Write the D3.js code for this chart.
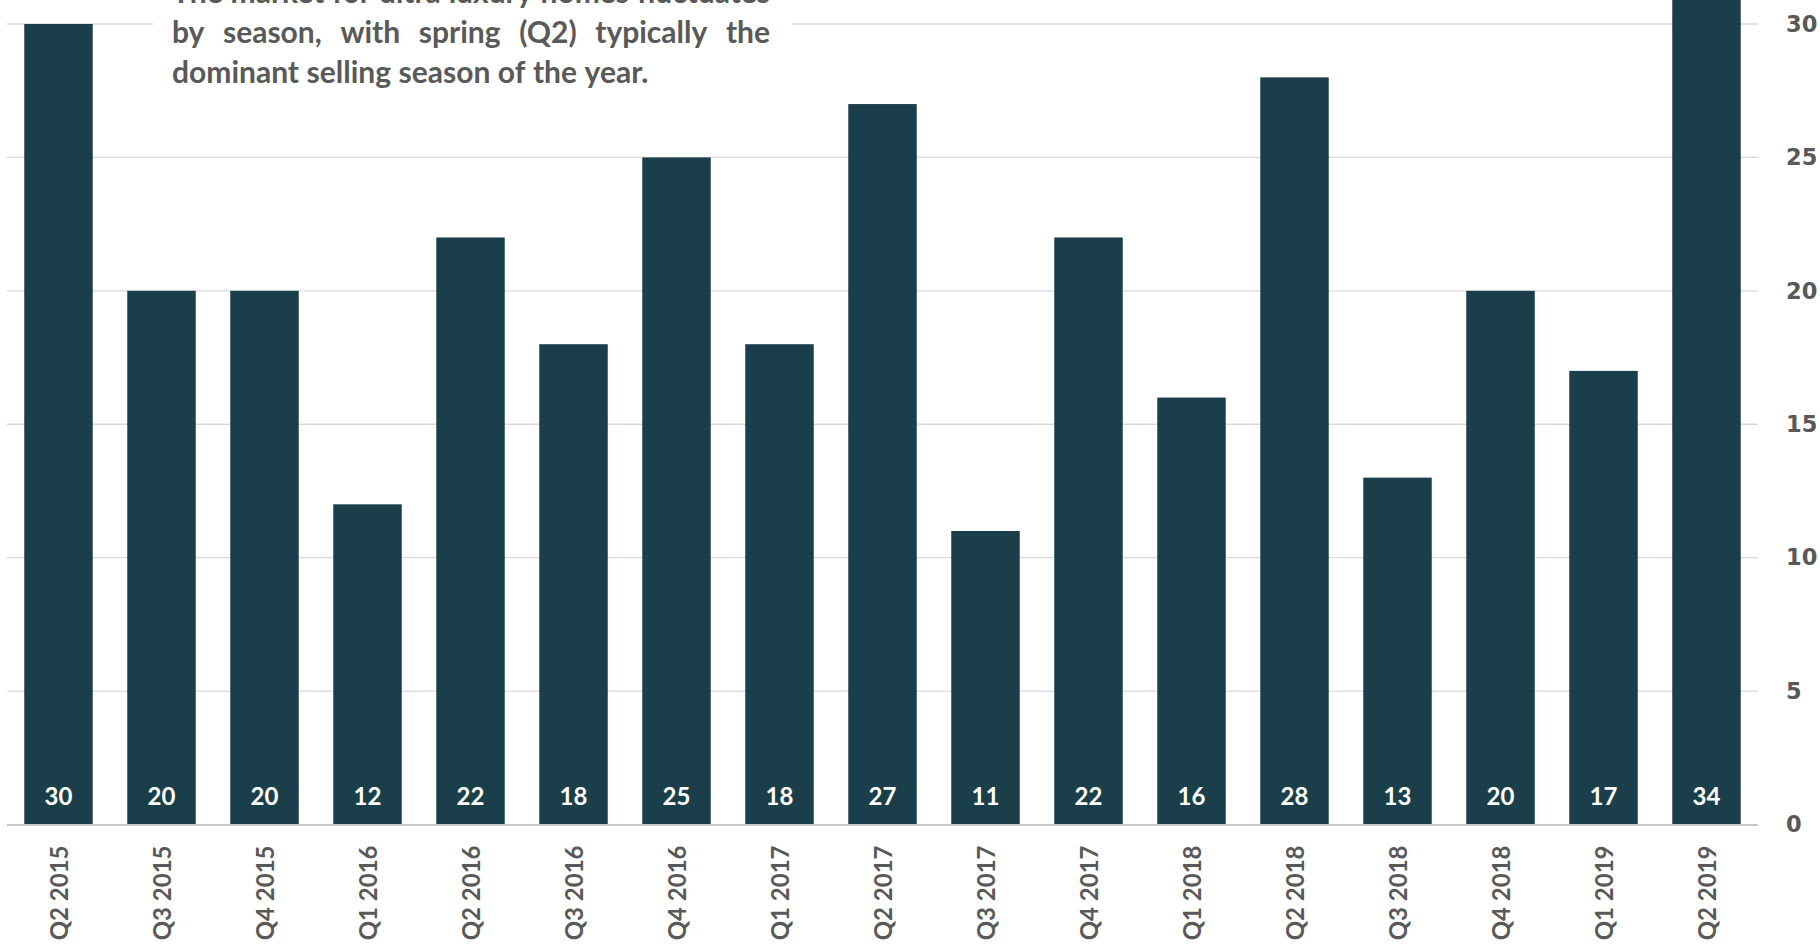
<!DOCTYPE html>
<html>
<head>
<meta charset="utf-8">
<script src="https://cdn.jsdelivr.net/npm/d3@7"></script>
<style>
  html, body { margin: 0; padding: 0; background: #ffffff; overflow: hidden; }
  svg { display: block; }
</style>
</head>
<body>
<svg id="chart" width="1820" height="948"></svg>
<script>
// Quarterly sales of ultra luxury homes
const quarters = ["Q2 2015","Q3 2015","Q4 2015","Q1 2016","Q2 2016","Q3 2016","Q4 2016",
                  "Q1 2017","Q2 2017","Q3 2017","Q4 2017","Q1 2018","Q2 2018","Q3 2018",
                  "Q4 2018","Q1 2019","Q2 2019"];
const sales = [30, 20, 20, 12, 22, 18, 25, 18, 27, 11, 22, 16, 28, 13, 20, 17, 34];
const yTicks = [0, 5, 10, 15, 20, 25, 30];
const noteLines = [
  "The market for ultra luxury homes fluctuates",
  "by season, with spring (Q2) typically the",
  "dominant selling season of the year."
];

const svg = d3.select("#chart");
const barColor = "#1b3f4a";
const textGray = "#595959";

const x = d3.scaleBand()
  .domain(quarters)
  .range([7, 1758])
  .paddingInner(0.335)
  .paddingOuter(0.1675);

const y = d3.scaleLinear()
  .domain([0, 30])
  .range([824.5, 24]);

// horizontal gridlines
svg.append("g")
  .selectAll("line")
  .data(yTicks.filter(d => d > 0))
  .join("line")
  .attr("x1", 7).attr("x2", 1758)
  .attr("y1", d => y(d)).attr("y2", d => y(d))
  .attr("stroke", "#d9d9d9")
  .attr("stroke-width", 1.3);

// bars
svg.append("g")
  .selectAll("rect")
  .data(sales)
  .join("rect")
  .attr("x", (d, i) => x(quarters[i]))
  .attr("width", x.bandwidth())
  .attr("y", d => y(d))
  .attr("height", d => y(0) - y(d))
  .attr("fill", barColor);

// baseline
svg.append("line")
  .attr("x1", 7).attr("x2", 1758)
  .attr("y1", y(0) + 0.5).attr("y2", y(0) + 0.5)
  .attr("stroke", "#c8c8c8")
  .attr("stroke-width", 2);

// value labels at the foot of each bar
svg.append("g")
  .selectAll("text")
  .data(sales)
  .join("text")
  .attr("x", (d, i) => x(quarters[i]) + x.bandwidth() / 2)
  .attr("y", y(0) - 20)
  .attr("text-anchor", "middle")
  .attr("font-family", "Lato, sans-serif")
  .attr("font-weight", 700)
  .attr("font-size", 24)
  .attr("fill", "#ffffff")
  .text(d => d);

// rotated category labels
svg.append("g")
  .selectAll("text")
  .data(quarters)
  .join("text")
  .attr("transform", d => `translate(${x(d) + x.bandwidth() / 2},${y(0) + 21}) rotate(-90)`)
  .attr("text-anchor", "end")
  .attr("dominant-baseline", "central")
  .attr("font-family", "Lato, sans-serif")
  .attr("font-weight", 700)
  .attr("font-size", 24)
  .attr("fill", textGray)
  .text(d => d);

// right-hand value axis
const axis = d3.axisRight(y).tickValues(yTicks).tickSize(0).tickPadding(0);
const gAxis = svg.append("g")
  .attr("transform", "translate(1786,0)")
  .call(axis);
gAxis.select(".domain").remove();
gAxis.selectAll("text")
  .attr("x", 0)
  .attr("dy", "0.32em")
  .attr("text-anchor", "start")
  .attr("font-family", "'DejaVu Sans', sans-serif")
  .attr("font-weight", 700)
  .attr("font-size", 22.5)
  .attr("fill", textGray);

// annotation box with justified text
svg.append("rect")
  .attr("x", 153).attr("y", 0)
  .attr("width", 639).attr("height", 100)
  .attr("fill", "#ffffff");

const noteLeft = 172, noteWidth = 598, noteTop = 3, lineStep = 40;
const note = svg.append("g")
  .attr("font-family", "Lato, sans-serif")
  .attr("font-weight", 700)
  .attr("font-size", 30)
  .attr("fill", textGray);

noteLines.forEach((line, li) => {
  const words = line.split(" ");
  const yy = noteTop + li * lineStep;
  const nodes = words.map(w => note.append("text").attr("y", yy).text(w));
  const widths = nodes.map(n => n.node().getComputedTextLength());
  const last = li === noteLines.length - 1;
  const gap = last ? 7.5 : (noteWidth - d3.sum(widths)) / (words.length - 1);
  let cx = noteLeft;
  nodes.forEach((n, i) => {
    n.attr("x", cx);
    cx += widths[i] + gap;
  });
});
</script>
</body>
</html>
